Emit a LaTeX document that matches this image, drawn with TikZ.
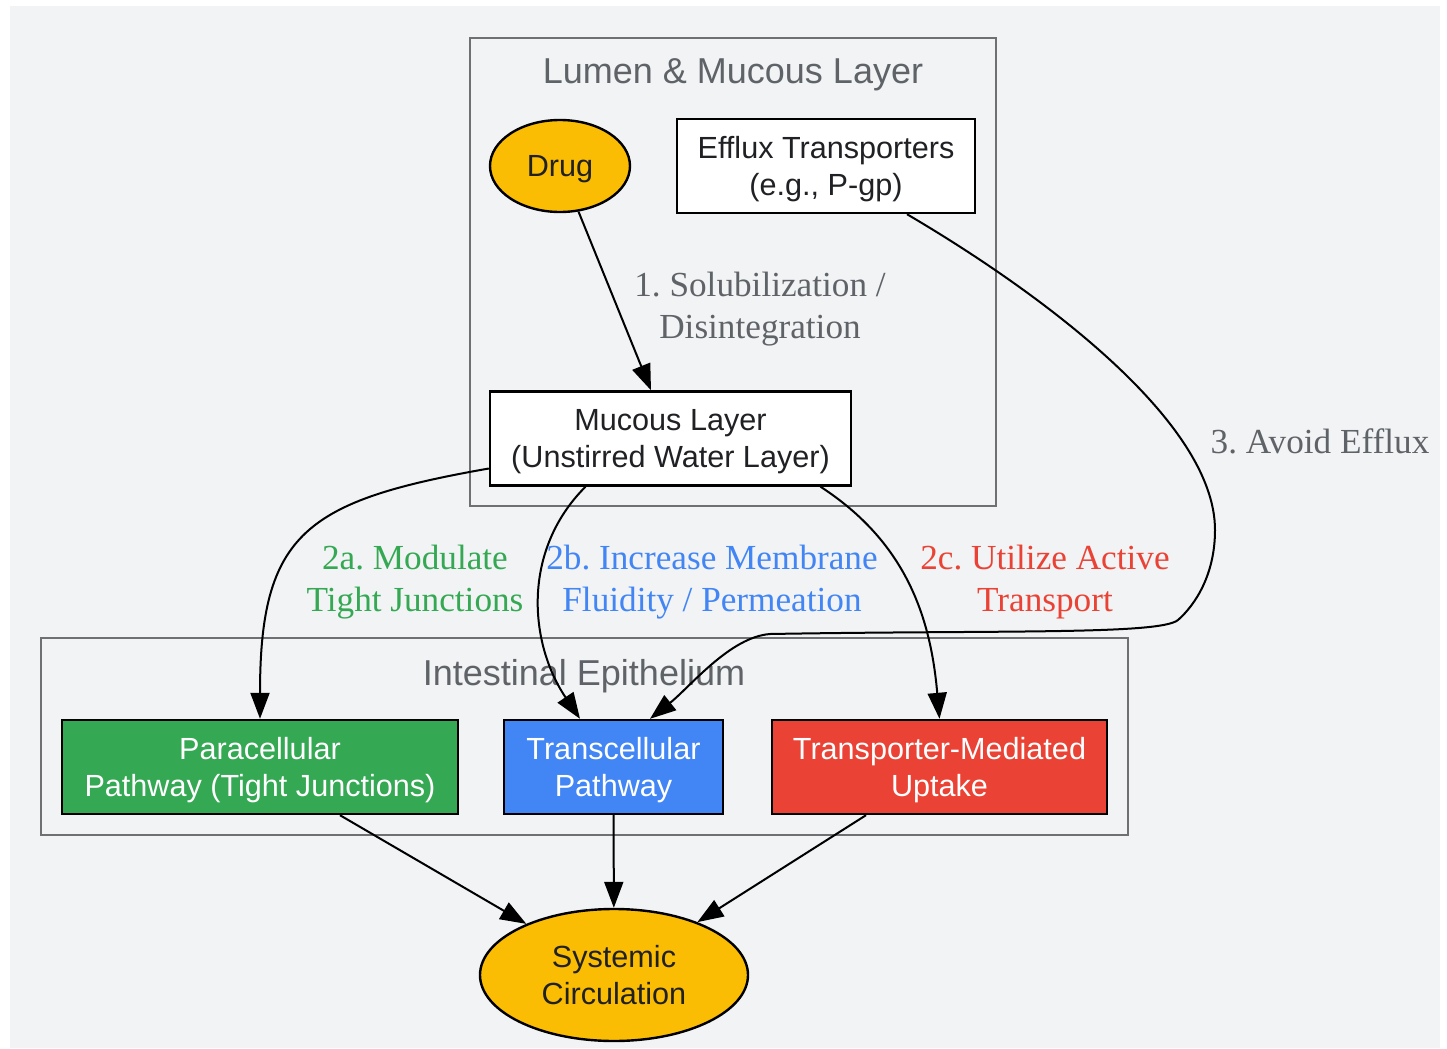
\documentclass[tikz,border=0pt]{standalone}
\usepackage{fontspec}
\setmainfont{Liberation Serif}
\setsansfont{Liberation Sans}
\usetikzlibrary{arrows.meta,positioning,shapes.geometric}
\frenchspacing

\definecolor{bggray}{HTML}{F1F3F4}
\definecolor{framegray}{HTML}{6E7073}
\definecolor{txtgray}{HTML}{5F6368}
\definecolor{txtdark}{HTML}{202124}
\definecolor{gyellow}{HTML}{FBBC04}
\definecolor{ggreen}{HTML}{34A853}
\definecolor{gblue}{HTML}{4285F4}
\definecolor{gred}{HTML}{EA4335}

\begin{document}
\begin{tikzpicture}[x=0.5pt,y=-0.5pt,>={Triangle[length=13pt,width=9.5pt]},->,line width=1pt,
    box/.style={draw,rectangle,line width=1.2pt,fill=white,minimum height=47pt,inner sep=0pt,
      align=center,text depth=0pt,text=txtdark,font=\sffamily\fontsize{15.3}{18.5}\selectfont},
    oval/.style={draw,ellipse,line width=1.2pt,fill=gyellow,inner sep=0pt,
      align=center,text depth=0pt,text=txtdark,font=\sffamily\fontsize{15.3}{18.5}\selectfont},
    lbl/.style={align=center,text depth=0pt,text=txtgray,font=\fontsize{17.6}{21}\selectfont},
    title/.style={text depth=0pt,text=txtgray,font=\sffamily\fontsize{18}{21}\selectfont},
    frame/.style={-,draw=framegray,line width=1.2pt}]

     \useasboundingbox (0,0) rectangle (1447,1049);
     \fill[bggray] (10,6) rectangle (1440,1048);

     \draw[frame] (470,38) rectangle (996,506);
     \node[title] (lumen) at (733,71) {Lumen \& Mucous Layer};
     \draw[frame] (41,638) rectangle (1128,835);
     \node[title] (epith) at (584,672) {Intestinal Epithelium};

     \node[oval,minimum width=70pt,minimum height=46pt] (drug) at (560,166) {Drug};
     \node[box,minimum width=149pt] (efflux) at (826,166) {Efflux Transporters\\(e.g., P-gp)};
     \node[box,minimum width=180.5pt] (mucous) at (670.5,438.5) {Mucous Layer\\(Unstirred Water Layer)};
     \node[box,fill=ggreen,text=white,minimum width=198pt] (para) at (260,767) {Paracellular\\Pathway (Tight Junctions)};
     \node[box,fill=gblue,text=white,minimum width=109.5pt] (trans) at (613.5,767) {Transcellular\\Pathway};
     \node[box,fill=gred,text=white,minimum width=167.5pt] (carrier) at (939.5,767) {Transporter-Mediated\\Uptake};
     \node[oval,minimum width=134pt,minimum height=66pt] (blood) at (614,975) {Systemic\\Circulation};

     \path (drug) edge (mucous)
           ([yshift=-15pt]mucous.west) edge[out=190,in=90,looseness=1.4] (para)
           ([xshift=-42.5pt]mucous.south) edge[out=225,in=124] ([xshift=-16.75pt]trans.north)
           ([xshift=75pt]mucous.south) edge[out=-33,in=95] (carrier.north);

     \draw ([xshift=40.5pt]efflux.south) .. controls (1036,290) and (1215,420) .. (1215,530)
           .. controls (1215,575) and (1195,605) .. (1178,620)
           .. controls (1160,635) and (1000,630) .. (770,634)
           .. controls (730,637) and (690,687) .. ([xshift=18.25pt]trans.north);

     \node[lbl] (step1) at (760,305) {1. Solubilization /\\Disintegration};
     \node[lbl,text=ggreen] (step2a) at (415,578) {2a. Modulate\\Tight Junctions};
     \node[lbl,text=gblue] (step2b) at (712,578) {2b. Increase Membrane\\Fluidity / Permeation};
     \node[lbl,text=gred] (step2c) at (1045,578) {2c. Utilize Active\\Transport};
     \node[lbl] (step3) at (1320,441) {3. Avoid Efflux};

     \path ([xshift=40pt]para.south) edge (blood)
           (trans) edge (blood)
           ([xshift=-36.75pt]carrier.south) edge (blood);
\end{tikzpicture}
\end{document}
